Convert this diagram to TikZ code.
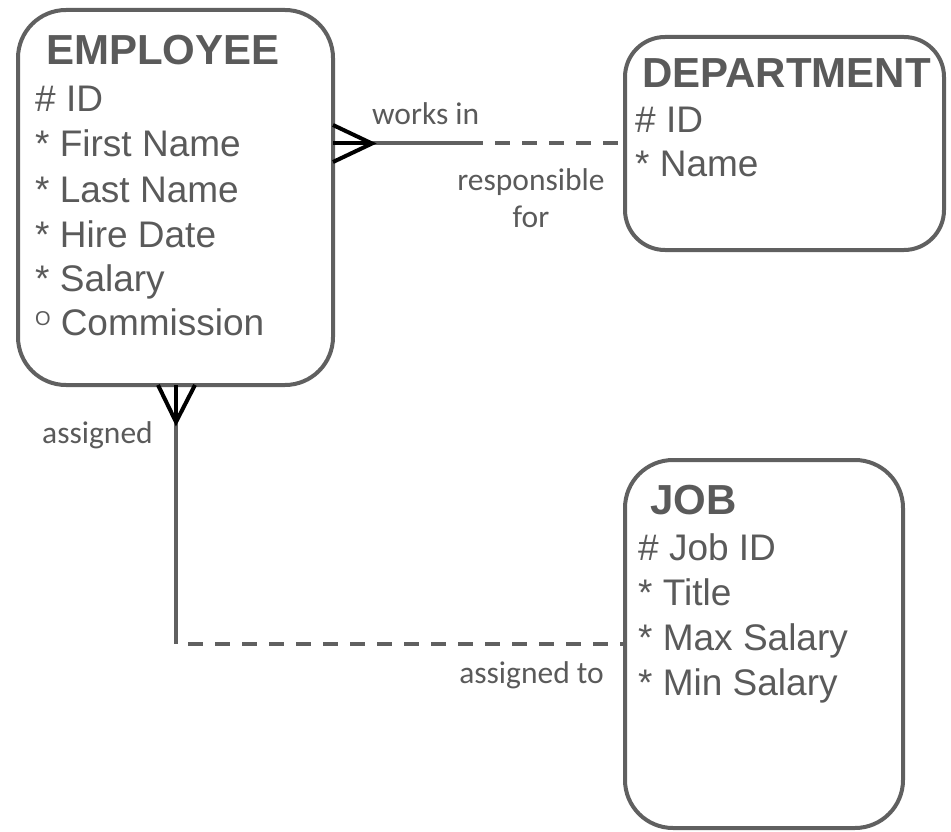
\documentclass[tikz,border=0pt]{standalone}
\usepackage{fontspec}
\setmainfont{Liberation Sans}
\newfontfamily\lblfont{Carlito}
\definecolor{linegray}{RGB}{96,96,96}
\definecolor{txtgray}{RGB}{90,90,90}
\begin{document}
\begin{tikzpicture}[x=1pt,y=-1pt,
  box/.style={draw=linegray, line width=4pt, rounded corners=#1, inner sep=0pt, outer sep=0pt, anchor=north west},
  box/.default=48pt,
  ttl/.style={anchor=base west, inner sep=0pt, text=txtgray, font=\fontsize{42}{42}\selectfont\bfseries},
  attr/.style={anchor=base west, inner sep=0pt, text=txtgray, font=\fontsize{37}{37}\selectfont},
  lbl/.style={inner sep=0pt, text=txtgray, font=\lblfont\fontsize{31.5}{31.5}\selectfont},
  conn/.style={draw=linegray, line width=4pt},
  dconn/.style={conn, dash pattern=on 15pt off 12pt},
  crow/.style={draw=black, line width=4pt}]
\useasboundingbox (0,0) rectangle (951,832);
% boxes
\node[box, minimum width=315pt, minimum height=375pt] (emp) at (18,10) {};
\node[box=40pt, minimum width=319pt, minimum height=213pt] (dep) at (625,37) {};
\node[box, minimum width=278pt, minimum height=368pt] (job) at (625,460) {};
% EMPLOYEE text
\node[ttl] (empT) at (46,65) {EMPLOYEE};
\node[attr] (e1) at (35,112) {\# ID};
\node[attr] (e2) at (35,157) {* First Name};
\node[attr] (e3) at (35,202) {* Last Name};
\node[attr] (e4) at (35,247) {* Hire Date};
\node[attr] (e5) at (35,291) {* Salary};
\node[attr] (e6) at (35,335) {\raisebox{10pt}{\fontsize{20}{20}\selectfont O}\hspace{10pt}Commission};
% DEPARTMENT text
\node[ttl] (depT) at (642,88) {DEPARTMENT};
\node[attr] (d1) at (635,133) {\# ID};
\node[attr] (d2) at (635,177) {* Name};
% JOB text
\node[ttl] (jobT) at (650,514) {JOB};
\node[attr] (j1) at (638,560) {\# Job ID};
\node[attr] (j2) at (638,605) {* Title};
\node[attr] (j3) at (638,650) {* Max Salary};
\node[attr] (j4) at (638,695) {* Min Salary};
% works in / responsible for
\coordinate (wmid) at (483,0);
\coordinate (wtip) at (372,0);
\draw[conn] (emp.east |- dep.west) -- (wmid |- dep.west);
\draw[dconn] ([xshift=12pt]wmid |- dep.west) -- (dep.west);
\draw[crow] ([yshift=-18.5pt]emp.east |- dep.west) -- (wtip |- dep.west) -- ([yshift=18.5pt]emp.east |- dep.west);
\draw[crow] (emp.east |- dep.west) -- (wtip |- dep.west);
\node[lbl, anchor=base west] (lw) at (372,125) {works in};
\node[lbl, anchor=base] (lr) at (531,190) {responsible};
\node[lbl, anchor=base] (lf) at (531,227) {for};
% assigned / assigned to
\coordinate (acorner) at (176,0);
\coordinate (atip) at (176,422);
\draw[conn] (emp.south -| acorner) -- (acorner |- job.west);
\draw[dconn] ([xshift=12pt]acorner |- job.west) -- (job.west);
\draw[crow] ([xshift=-18pt]emp.south -| acorner) -- (atip) -- ([xshift=19pt]emp.south -| acorner);
\draw[crow] (emp.south -| acorner) -- (atip);
\node[lbl, anchor=base west] (la) at (42,443) {assigned};
\node[lbl, anchor=base east] (lat) at (604,683) {assigned to};
\end{tikzpicture}
\end{document}
